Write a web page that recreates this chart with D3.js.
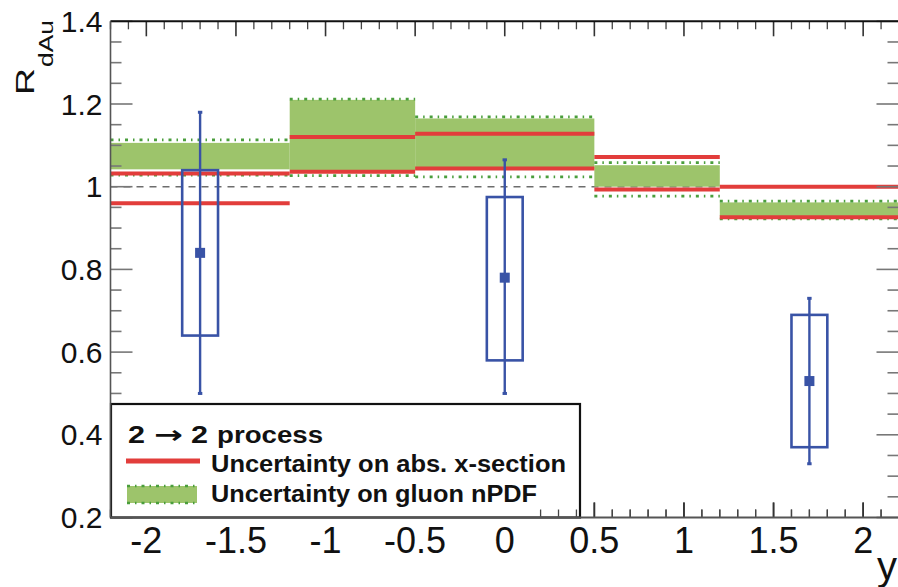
<!DOCTYPE html>
<html>
<head>
<meta charset="utf-8">
<script src="https://cdn.jsdelivr.net/npm/d3@7"></script>
<style>
  html, body { margin: 0; padding: 0; background: #fff; }
  svg { display: block; font-family: "Liberation Sans", Arial, Helvetica, sans-serif; }
</style>
</head>
<body>
<svg id="chart" width="898" height="587"></svg>
<script>
// Rapidity bins of the 2 -> 2 model bands
const binEdges = [-2.2, -1.2, -0.5, 0.5, 1.2, 2.2];

// Uncertainty on absolute cross-section (red lines, upper / lower edge per bin)
const xsecHigh = [1.032, 1.120, 1.128, 1.072, 1.000];
const xsecLow  = [0.960, 1.036, 1.044, 0.993, 0.926];

// Uncertainty on gluon nPDF (green band: filled range and dotted envelope per bin)
const npdfFillHigh = [1.106, 1.210, 1.165, 1.052, 0.962];
const npdfFillLow  = [1.042, 1.040, 1.042, 1.000, 0.928];
const npdfEnvHigh  = [1.113, 1.212, 1.169, 1.058, 0.965];
const npdfEnvLow   = [1.028, 1.027, 1.024, 0.977, 0.922];

// Measured R_dAu points
const pointY     = [-1.7, 0.0, 1.7];
const pointR     = [0.84, 0.78, 0.53];
const statLow    = [0.50, 0.50, 0.33];
const statHigh   = [1.18, 1.065, 0.73];
const sysLow     = [0.64, 0.58, 0.37];
const sysHigh    = [1.04, 0.975, 0.69];
const sysHalfWidth = 0.1;

// Axis ticks
const xTickValues = [-2, -1.5, -1, -0.5, 0, 0.5, 1, 1.5, 2];
const xTickLabels = ["-2", "-1.5", "-1", "-0.5", "0", "0.5", "1", "1.5", "2"];
const yTickValues = [0.2, 0.4, 0.6, 0.8, 1.0, 1.2, 1.4];
const yTickLabels = ["0.2", "0.4", "0.6", "0.8", "1", "1.2", "1.4"];

// Legend entries
const legendTitleParts = ["2", "\u2192", "2", "process"];
const legendXsec = "Uncertainty on abs. x-section";
const legendNpdf = "Uncertainty on gluon nPDF";

const RED = "#e23d3b";
const GREEN_FILL = "#9dc46b";
const GREEN_DOT = "#4a9e3c";
const BLUE = "#3953a6";

const svg = d3.select("#chart");

const frame = { left: 110.5, right: 899, top: 21.3, bottom: 517.5 };
const x = d3.scaleLinear().domain([-2.2, 2.2]).range([frame.left, frame.right]);
const y = d3.scaleLinear().domain([0.2, 1.4]).range([frame.bottom, frame.top]);

const bins = d3.range(binEdges.length - 1).map(i => ({
  x0: binEdges[i], x1: binEdges[i + 1],
  rHi: xsecHigh[i], rLo: xsecLow[i],
  fHi: npdfFillHigh[i], fLo: npdfFillLow[i],
  eHi: npdfEnvHigh[i], eLo: npdfEnvLow[i]
}));

const plot = svg.append("g");

// reference line at R = 1
plot.append("line")
  .attr("x1", x(-2.2)).attr("x2", x(2.2))
  .attr("y1", y(1)).attr("y2", y(1))
  .attr("stroke", "#6d6d6d").attr("stroke-width", 1.4)
  .attr("stroke-dasharray", "7,6");

// gluon nPDF band
plot.selectAll("rect.npdf").data(bins).join("rect")
  .attr("class", "npdf")
  .attr("x", d => x(d.x0)).attr("width", d => x(d.x1) - x(d.x0))
  .attr("y", d => y(d.fHi)).attr("height", d => y(d.fLo) - y(d.fHi))
  .attr("fill", GREEN_FILL);

["eHi", "eLo"].forEach(k => {
  plot.selectAll("line.env-" + k).data(bins).join("line")
    .attr("class", "env-" + k)
    .attr("x1", d => x(d.x0)).attr("x2", d => x(d.x1))
    .attr("y1", d => y(d[k])).attr("y2", d => y(d[k]))
    .attr("stroke", GREEN_DOT).attr("stroke-width", 2.8)
    .attr("stroke-dasharray", "3,5,1.5,5");
});

// absolute cross-section uncertainty
["rHi", "rLo"].forEach(k => {
  plot.selectAll("line.xs-" + k).data(bins).join("line")
    .attr("class", "xs-" + k)
    .attr("x1", d => x(d.x0)).attr("x2", d => x(d.x1))
    .attr("y1", d => y(d[k])).attr("y2", d => y(d[k]))
    .attr("stroke", RED).attr("stroke-width", 4);
});

// data points: systematic boxes, statistical bars, markers
const pts = pointY.map((v, i) => ({
  y: v, r: pointR[i], sLo: statLow[i], sHi: statHigh[i], bLo: sysLow[i], bHi: sysHigh[i]
}));

plot.selectAll("rect.sys").data(pts).join("rect")
  .attr("class", "sys")
  .attr("x", d => x(d.y - sysHalfWidth)).attr("width", d => x(d.y + sysHalfWidth) - x(d.y - sysHalfWidth))
  .attr("y", d => y(d.bHi)).attr("height", d => y(d.bLo) - y(d.bHi))
  .attr("fill", "none").attr("stroke", BLUE).attr("stroke-width", 2.6);

plot.selectAll("line.stat").data(pts).join("line")
  .attr("class", "stat")
  .attr("x1", d => x(d.y)).attr("x2", d => x(d.y))
  .attr("y1", d => y(d.sLo)).attr("y2", d => y(d.sHi))
  .attr("stroke", BLUE).attr("stroke-width", 2.4);

["sLo", "sHi"].forEach(k => {
  plot.selectAll("rect.cap-" + k).data(pts).join("rect")
    .attr("class", "cap-" + k)
    .attr("x", d => x(d.y) - 2.2).attr("width", 4.4)
    .attr("y", d => y(d[k]) - 1.5).attr("height", 3)
    .attr("fill", BLUE);
});

plot.selectAll("rect.marker").data(pts).join("rect")
  .attr("class", "marker")
  .attr("x", d => x(d.y) - 5).attr("y", d => y(d.r) - 5)
  .attr("width", 10).attr("height", 10)
  .attr("fill", BLUE);

// axes
const axisColor = "#555";
const xMinor = d3.range(-22, 23).map(v => v / 10).filter(v => !xTickValues.some(t => Math.abs(t - v) < 1e-9));
const yMinor = d3.range(4, 29).map(v => v / 20).filter(v => !yTickValues.some(t => Math.abs(t - v) < 1e-9));

function xTicks(g, yPos, dir, keep) {
  const major = xTickValues.filter(keep);
  const minor = xMinor.filter(keep);
  g.selectAll(null).data(major).join("line")
    .attr("x1", d => x(d)).attr("x2", d => x(d))
    .attr("y1", yPos).attr("y2", yPos + dir * 15)
    .attr("stroke", "#333").attr("stroke-width", 1.6);
  g.selectAll(null).data(minor).join("line")
    .attr("x1", d => x(d)).attr("x2", d => x(d))
    .attr("y1", yPos).attr("y2", yPos + dir * 8)
    .attr("stroke", "#444").attr("stroke-width", 1.3);
}
function yTicks(g, xPos, dir) {
  g.selectAll(null).data(yTickValues).join("line")
    .attr("x1", xPos).attr("x2", xPos + dir * 22)
    .attr("y1", d => y(d)).attr("y2", d => y(d))
    .attr("stroke", "#777").attr("stroke-width", 1.6);
  g.selectAll(null).data(yMinor).join("line")
    .attr("x1", xPos).attr("x2", xPos + dir * 11)
    .attr("y1", d => y(d)).attr("y2", d => y(d))
    .attr("stroke", "#777").attr("stroke-width", 1.6);
}

const all = () => true;
xTicks(svg.append("g"), frame.top, 1, all);
yTicks(svg.append("g"), frame.left, 1);
yTicks(svg.append("g"), 898.5, -1);
// bottom ticks that sit under the legend box
xTicks(svg.append("g"), frame.bottom, -1, all);

// legend (covers the lower-left corner of the frame)
const lg = svg.append("g");
lg.append("rect")
  .attr("x", 111).attr("y", 404).attr("width", 469).attr("height", 113.5)
  .attr("fill", "#fff").attr("stroke", "#111").attr("stroke-width", 2.2);

// title pieces: start position and width of each word
const titleX = [128, 154, 191, 217];
const titleW = [17, 29, 17, 106];
const title = lg.append("text").attr("y", 442.5)
  .attr("font-size", 23).attr("font-weight", "bold").attr("fill", "#111");
legendTitleParts.forEach((t, i) => {
  title.append("tspan").attr("x", titleX[i])
    .attr("textLength", titleW[i]).attr("lengthAdjust", "spacingAndGlyphs")
    .attr("font-family", i === 1 ? "DejaVu Sans" : null)
    .attr("font-size", i === 1 ? 24 : null)
    .text(t);
});

lg.append("line").attr("x1", 126).attr("x2", 200).attr("y1", 461).attr("y2", 461)
  .attr("stroke", RED).attr("stroke-width", 5);
lg.append("text").attr("x", 211).attr("y", 471.5)
  .attr("font-size", 23).attr("font-weight", "bold").attr("fill", "#111")
  .attr("textLength", 355).attr("lengthAdjust", "spacingAndGlyphs")
  .text(legendXsec);
lg.append("rect").attr("x", 127).attr("y", 486).attr("width", 70).attr("height", 17)
  .attr("fill", GREEN_FILL);
[486, 503].forEach(v => lg.append("line").attr("x1", 127).attr("x2", 197).attr("y1", v).attr("y2", v)
  .attr("stroke", GREEN_DOT).attr("stroke-width", 2.6).attr("stroke-dasharray", "3,5,1.5,5"));
lg.append("text").attr("x", 211).attr("y", 501.5)
  .attr("font-size", 23).attr("font-weight", "bold").attr("fill", "#111")
  .attr("textLength", 326).attr("lengthAdjust", "spacingAndGlyphs")
  .text(legendNpdf);

// bottom ticks near the legend's right edge stay visible over it
xTicks(svg.append("g"), frame.bottom, -1, v => x(v) > 530);

// frame lines
svg.append("line").attr("x1", frame.left).attr("x2", 898).attr("y1", frame.top).attr("y2", frame.top)
  .attr("stroke", "#111").attr("stroke-width", 2);
svg.append("line").attr("x1", frame.left).attr("x2", frame.left).attr("y1", frame.top).attr("y2", frame.bottom)
  .attr("stroke", axisColor).attr("stroke-width", 1.6);
svg.append("line").attr("x1", frame.left).attr("x2", 898).attr("y1", frame.bottom).attr("y2", frame.bottom)
  .attr("stroke", axisColor).attr("stroke-width", 2);

// tick labels
svg.append("g").selectAll("text").data(xTickValues).join("text")
  .attr("x", d => x(d)).attr("y", 553)
  .attr("text-anchor", "middle").attr("font-size", 36).attr("fill", "#111")
  .text((d, i) => xTickLabels[i]);

svg.append("g").selectAll("text").data(yTickValues).join("text")
  .attr("x", 102.5).attr("y", d => y(d) + 10.5)
  .attr("text-anchor", "end").attr("font-size", 30).attr("fill", "#111")
  .text((d, i) => yTickLabels[i]);

// axis titles: R with subscript dAu, reading upwards
const yTitle = svg.append("g").attr("transform", "translate(34,20) rotate(-90)").attr("fill", "#111");
yTitle.append("text").attr("x", -48).attr("y", 0)
  .attr("text-anchor", "end").attr("font-size", 25)
  .attr("textLength", 27).attr("lengthAdjust", "spacingAndGlyphs")
  .text("R");
yTitle.append("text").attr("x", 0).attr("y", 19)
  .attr("text-anchor", "end").attr("font-size", 21)
  .attr("textLength", 47).attr("lengthAdjust", "spacingAndGlyphs")
  .text("dAu");

svg.append("text").attr("x", 877).attr("y", 580)
  .attr("font-size", 40).attr("fill", "#111").text("y");
</script>
</body>
</html>
